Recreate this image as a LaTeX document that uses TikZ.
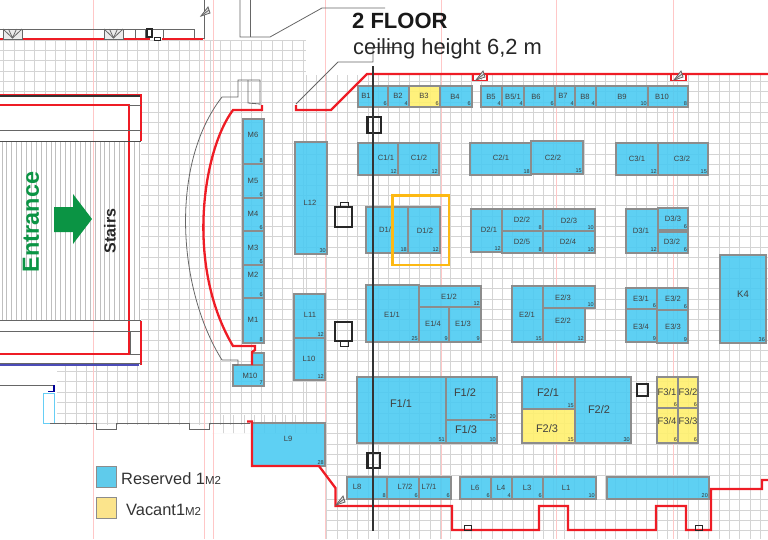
\documentclass[tikz,border=0pt]{standalone}
\usepackage{fontspec}
\setmainfont{Liberation Sans}
\definecolor{stallblue}{HTML}{4CCBF2}
\definecolor{stallyellow}{HTML}{FFF06E}
\definecolor{stalledge}{HTML}{8C8C8C}
\definecolor{legendyellow}{HTML}{FBE48C}
\definecolor{legendblue}{HTML}{5FCBEB}
\definecolor{wallred}{HTML}{EE1C25}
\definecolor{planegreen}{HTML}{0B9444}
\definecolor{highlight}{HTML}{FDB913}
\tikzset{
  gridline/.style={draw=black!17,line width=.8pt},
  axisline/.style={draw=red!22,line width=.7pt},
  stall/.style={rectangle,draw=stalledge,fill=stallblue,fill opacity=.9,line width=1.8pt,inner sep=0pt,outer sep=0pt},
  vacant/.style={stall,fill=stallyellow},
  stalltxt/.style={inner sep=0pt,font=\fontsize{7.6}{9}\selectfont,text=black!75},
  areatxt/.style={inner sep=1pt,font=\fontsize{5.5}{6}\selectfont,text=black!80},
  thinwall/.style={draw=black!60,line width=.8pt},
  wall/.style={draw=wallred,line width=2.3pt,line join=miter},
  pillar/.style={draw=black!85,line width=1.3pt},
  hatchline/.style={draw=black!25,line width=.9pt},
}
% id, box x0 y0 x1 y1, text x y, text, area
\newcommand{\stall}[9]{
  \node[stall,minimum width={(#4-#2)*1pt},minimum height={(#5-#3)*1pt}] (#1) at ({(#2+#4)/2},{(#3+#5)/2}) {};
  \node[stalltxt] (#1t) at (#6,#7) {#8};
  \node[areatxt,anchor=south east] (#1a) at (#1.south east) {#9};
}
\newcommand{\vacantstall}[9]{
  \node[vacant,minimum width={(#4-#2)*1pt},minimum height={(#5-#3)*1pt}] (#1) at ({(#2+#4)/2},{(#3+#5)/2}) {};
  \node[stalltxt] (#1t) at (#6,#7) {#8};
  \node[areatxt,anchor=south east] (#1a) at (#1.south east) {#9};
}
\newcommand{\doorfan}[2]{
  \draw[thinwall,fill=black!10] (#1,#2) -- ++(9,-3) -- ++(-2,-6) -- cycle;
  \draw[thinwall] (#1,#2) -- ++(8,-6);
}
\newcommand{\doorpair}[2]{
  \draw[thinwall,fill=black!8] (#1,#2) rectangle ++(19,10);
  \draw[thinwall] (#1,#2) -- ++(9.5,9) -- ++(9.5,-9);
  \draw[thinwall] (#1,#2) ++(9.5,9) -- ++(-4,-9) ++(4,9) -- ++(4,-9);
}
\begin{document}
\begin{tikzpicture}[x=1pt,y=-1pt]
        \useasboundingbox (0,0) rectangle (768,539);

        \begin{scope}
          \clip (0,40) -- (306,40) -- (306,95) -- (306,425) -- (57,425) -- (57,365) -- (141,365) -- (141,95) -- (0,95) -- cycle;
          \foreach \k in {0,...,29} { \draw[gridline] ({3.6+10.33*\k},40) -- ({3.6+10.33*\k},425); }
          \foreach \k in {0,...,37} { \draw[gridline] (0,{40+10.36*\k}) -- (306,{40+10.36*\k}); }
        \end{scope}

        \begin{scope}
          \clip (306,75) -- (768,75) -- (768,539) -- (325,539) -- (325,433) -- (212,433) -- (212,415) -- (306,415) -- cycle;
          \foreach \k in {20,...,73} { \draw[gridline] ({6.4+10.33*\k},75) -- ({6.4+10.33*\k},539); }
          \foreach \k in {3,...,42} { \draw[gridline] (200,{40+10.36*\k}) -- (768,{40+10.36*\k}); }
          \foreach \y in {499.6,510,520.3,530.6} { \draw[gridline] (200,\y) -- (768,\y); }
        \end{scope}

        \foreach \k in {0,...,28} { \draw[hatchline] ({2+4.9*\k},141) -- ({2+4.9*\k},320); }

        \foreach \x in {93,204,213,325,441,556,673} { \draw[axisline] (\x,0) -- (\x,539); }

        \stall{Bone}{358}{86}{388}{107}{366}{96}{B1}{6}
        \stall{Btwo}{388}{86}{409}{107}{398}{96}{B2}{4}
        \vacantstall{Bthree}{409}{86}{440}{107}{424}{96}{B3}{6}
        \stall{Bfour}{440}{86}{472}{107}{455}{97}{B4}{6}
        \stall{Bfive}{481}{86}{502}{107}{491}{97}{B5}{4}
        \stall{Bfivea}{502}{86}{524}{107}{513}{97}{B5/1}{4}
        \stall{Bsix}{524}{86}{555}{107}{536}{97}{B6}{6}
        \stall{Bseven}{555}{86}{575}{107}{563}{96}{B7}{4}
        \stall{Beight}{575}{86}{596}{107}{585}{97}{B8}{4}
        \stall{Bnine}{596}{86}{648}{107}{622}{97}{B9}{10}
        \stall{Bten}{648}{86}{688}{107}{662}{97}{B10}{8}

        \stall{Cone}{358}{143}{398}{175}{386}{158}{C1/1}{12}
        \stall{Ctwo}{398}{143}{439}{175}{419}{158}{C1/2}{12}
        \stall{Cthree}{470}{143}{531}{175}{501}{158}{C2/1}{18}
        \stall{Cfour}{531}{141}{583}{174}{553}{158}{C2/2}{15}
        \stall{Cfive}{616}{143}{658}{175}{637}{159}{C3/1}{12}
        \stall{Csix}{658}{143}{708}{175}{682}{159}{C3/2}{15}

        \stall{Done}{366}{207}{408}{253}{385}{230}{D1/}{18}
        \stall{Dtwo}{408}{207}{440}{253}{425}{231}{D1/2}{12}
        \stall{Dthree}{471}{209}{502}{252}{489}{230}{D2/1}{12}
        \stall{Dfour}{502}{209}{543}{231}{522}{220}{D2/2}{8}
        \stall{Dfive}{502}{231}{543}{253}{522}{242}{D2/5}{8}
        \stall{Dsix}{543}{209}{595}{231}{569}{221}{D2/3}{10}
        \stall{Dseven}{543}{231}{595}{253}{568}{242}{D2/4}{10}
        \stall{Deight}{626}{209}{658}{253}{641}{231}{D3/1}{12}
        \stall{Dnine}{658}{208}{688}{230}{673}{219}{D3/3}{6}
        \stall{Dten}{658}{232}{688}{253}{672}{242}{D3/2}{6}

        \stall{Eone}{366}{285}{419}{342}{392}{315}{E1/1}{25}
        \stall{Etwo}{419}{286}{481}{307}{449}{297}{E1/2}{12}
        \stall{Ethree}{419}{307}{449}{342}{433}{324}{E1/4}{9}
        \stall{Efour}{449}{307}{481}{342}{463}{324}{E1/3}{9}
        \stall{Efive}{512}{286}{543}{342}{527}{315}{E2/1}{15}
        \stall{Esix}{543}{286}{595}{308}{563}{298}{E2/3}{10}
        \stall{Eseven}{543}{308}{585}{342}{563}{321}{E2/2}{12}
        \stall{Eeight}{626}{288}{657}{309}{641}{299}{E3/1}{6}
        \stall{Enine}{657}{288}{688}{310}{673}{299}{E3/2}{6}
        \stall{Eten}{626}{309}{657}{342}{641}{327}{E3/4}{9}
        \stall{Eeleven}{657}{310}{688}{343}{673}{327}{E3/3}{9}
        \stall{Kfour}{720}{255}{766}{343}{743}{294}{\fontsize{9.5}{11}\selectfont K4}{36}

        \tikzset{stalltxt/.style={inner sep=0pt,font=\fontsize{11}{13}\selectfont,text=black!75}}
        \stall{Fone}{357}{377}{446}{443}{401}{404}{F1/1}{51}
        \stall{Ftwo}{446}{377}{497}{420}{465}{393}{F1/2}{20}
        \stall{Fthree}{446}{420}{497}{443}{466}{430}{F1/3}{10}
        \stall{Ffour}{522}{377}{575}{409}{548}{393}{F2/1}{15}
        \vacantstall{Ffive}{522}{409}{575}{443}{547}{429}{F2/3}{15}
        \stall{Fsix}{575}{377}{631}{443}{599}{410}{F2/2}{30}
        \tikzset{stalltxt/.style={inner sep=0pt,font=\fontsize{9.5}{11}\selectfont,text=black!75}}
        \vacantstall{Fseven}{657}{377}{678}{408}{667}{392}{F3/1}{6}
        \vacantstall{Feight}{678}{377}{698}{408}{688}{392}{F3/2}{6}
        \vacantstall{Fnine}{657}{408}{678}{443}{667}{421}{F3/4}{6}
        \vacantstall{Ften}{678}{408}{698}{443}{688}{421}{F3/3}{6}
        \tikzset{stalltxt/.style={inner sep=0pt,font=\fontsize{7.6}{9}\selectfont,text=black!75}}

        \stall{Leight}{347}{477}{387}{499}{357}{487}{L8}{8}
        \stall{Lsevenb}{387}{477}{419}{499}{405}{487}{L7/2}{6}
        \stall{Lsevena}{419}{477}{451}{499}{429}{487}{L7/1}{6}
        \stall{Lsix}{460}{477}{491}{499}{475}{488}{L6}{6}
        \stall{Lfour}{491}{477}{512}{499}{501}{488}{L4}{4}
        \stall{Lthree}{512}{477}{543}{499}{527}{488}{L3}{6}
        \stall{Lone}{543}{477}{596}{499}{566}{488}{L1}{10}
        \stall{Lend}{607}{477}{709}{499}{658}{488}{}{20}
        \stall{Lnine}{252}{423}{325}{466}{288}{439}{L9}{28}
        \stall{Lten}{294}{338}{325}{380}{309}{359}{L10}{12}
        \stall{Leleven}{294}{294}{325}{338}{310}{315}{L11}{12}
        \stall{Ltwelve}{295}{142}{327}{254}{310}{203}{L12}{30}

        \stall{Msix}{243}{119}{264}{164}{253}{135}{M6}{8}
        \stall{Mfive}{243}{164}{264}{198}{253}{181}{M5}{6}
        \stall{Mfour}{243}{198}{264}{231}{253}{214}{M4}{6}
        \stall{Mthree}{243}{231}{264}{265}{253}{248}{M3}{6}
        \stall{Mtwo}{243}{265}{264}{298}{253}{275}{M2}{6}
        \stall{Mone}{243}{298}{264}{343}{253}{320}{M1}{8}
        \stall{Mtop}{252}{353}{264}{365}{258}{359}{}{}
        \stall{Mten}{233}{365}{264}{386}{250}{376}{M10}{7}

        \draw[highlight,line width=2.6pt] (392.5,195.5) rectangle (449,265);

        \draw[thinwall] (0,29) -- (194,29) -- (194,38) -- (204,38) -- (204,0);
        \foreach \x in {135,145,163} { \draw[thinwall] (\x,29) -- (\x,38); }
        \draw[wall,line width=1.2pt] (0,39) -- (150,39);
        \draw[wall,line width=1.2pt] (162,39) -- (203,39);
        \draw[pillar] (147,29) rectangle (152,37);
        \draw[pillar,line width=.8pt] (154.5,37) rectangle (160.5,40);
        \doorpair{3}{29}
        \doorpair{104}{29}
        \doorfan{201}{16}

        \draw[thinwall] (240,0) -- (240,37) -- (270,37) -- (322,8) -- (385,8);
        \draw[thinwall] (250,0) -- (250,37);
        \draw[thinwall] (296,104) -- (338,62) -- (373,62) -- (373,48);
        \draw[thinwall] (373,47) -- (402,47);

        \draw[wall] (296,105) -- (296,110) -- (331,110) -- (367,74) -- (768,74);
        \draw[wall] (262,105) -- (262,110) -- (233,110) .. controls (203,150) and (185,265) .. (233,346) -- (255,346) -- (255,350) -- (252,352) -- (252,365);
        \draw[thinwall] (233,365) -- (238,365) -- (238,360) -- (222,360) .. controls (178,290) and (169,165) .. (222,97) -- (238,97) -- (238,80) -- (260,80) -- (260,105);
        \draw[thinwall] (248,80) -- (248,103) -- (260,104);

        \draw[black!80,line width=1.4pt] (0,96) -- (141,96);
        \draw[wall,line width=1.2pt] (0,94.5) -- (141,94.5) -- (141,141);
        \draw[wall] (0,105) -- (129,105) -- (129,354) -- (0,354);
        \draw[thinwall] (129,105) -- (141,105);
        \draw[thinwall] (0,130.5) -- (141,130.5);
        \draw[thinwall,draw=black!70,line width=1pt] (0,141) -- (141,141);
        \draw[thinwall,line width=1pt] (0,320.5) -- (141,320.5);
        \draw[thinwall] (0,331) -- (141,331);
        \draw[thinwall] (130.5,331) -- (130.5,354) -- (141,354);
        \draw[wall,line width=1.2pt] (141,320.5) -- (141,365);
        \draw[thinwall] (0,363.5) -- (141,363.5);
        \draw[draw=blue!60!black!70,line width=1.4pt] (0,365) -- (139,365);

        \draw[thinwall] (0,385) -- (53,385);
        \draw[blue!60!black,line width=1.4pt] (48,391.5) -- (54,391.5) -- (54,385);
        \draw[cyan!60,line width=1pt] (43.5,393.5) rectangle (54,423);
        \draw[thinwall] (50,423.5) -- (96,423.5) -- (96,429.5) -- (116,429.5) -- (116,423.5) -- (189,423.5) -- (189,429.5) -- (209,429.5) -- (209,423.5) -- (250,423.5);
        \draw[wall] (247,421.5) -- (252,421.5) -- (252,466) -- (319,466) -- (335.5,488) -- (335.5,506) -- (452,506) -- (452,530) -- (539,530) -- (539,506) -- (568,506) -- (568,530) -- (656,530) -- (656,506) -- (686,506) -- (686,530) -- (711,530) -- (711,489) -- (762,489) -- (762,480) -- (768,480);
        \draw[pillar,line width=.8pt] (464,525) rectangle (471,530);
        \draw[pillar,line width=.8pt] (695,525) rectangle (702,530);
        \doorfan{336}{505}
        \draw[wall,line width=1.6pt] (473,74) -- (473,80.5) -- (487,80.5) -- (487,74);
        \draw[wall,line width=1.6pt] (671,74) -- (671,80.5) -- (686,80.5) -- (686,74);
        \doorfan{476}{80}
        \doorfan{674}{80}

        \draw[pillar] (368,117) rectangle (381,133);
        \draw[pillar] (367,116) -- (367,134);
        \draw[pillar] (368,453) rectangle (380,468);
        \draw[pillar] (367,452) -- (367,469);
        \draw[pillar,line width=1.6pt] (335,207) rectangle (352,227);
        \draw[pillar,line width=.9pt] (340,202) rectangle (348,207);
        \draw[pillar,line width=1.6pt] (335,322) rectangle (352,341);
        \draw[pillar,line width=.9pt] (340,341) rectangle (348,346);
        \draw[pillar,line width=2.2pt] (637,384) rectangle (648,396);

        \draw[black!80,line width=1.7pt] (373,66) -- (373,531);

        \fill[planegreen] (54,207) -- (73,207) -- (73,194) -- (92,219) -- (73,244) -- (73,232) -- (54,232) -- cycle;
        \node[rotate=90,text=planegreen,font=\bfseries\fontsize{23.4}{26}\selectfont,inner sep=0pt] (entrance) at (31,222) {Entrance};
        \node[rotate=90,text=black!85,font=\bfseries\fontsize{16}{18}\selectfont,inner sep=0pt] (stairs) at (110,231) {Stairs};

        \node[anchor=base west,inner sep=0pt,text=black!90,font=\bfseries\fontsize{22}{26}\selectfont] (floor) at (352,28) {2 FLOOR};
        \node[anchor=base west,inner sep=0pt,text=black!85,font=\fontsize{21.9}{26}\selectfont] (height) at (353,54) {ceiling height 6,2 m};

        \node[draw=stalledge,fill=legendblue,line width=1.5pt,minimum width=20pt,minimum height=21pt,inner sep=0pt] (reserved) at (106.5,477) {};
        \node[draw=stalledge,fill=legendyellow,line width=1.5pt,minimum width=20pt,minimum height=21pt,inner sep=0pt] (free) at (106.5,508) {};
        \node[anchor=base west,inner sep=0pt,text=black!80,font=\fontsize{16.4}{18}\selectfont] (reservedtxt) at (121,484) {Reserved 1{\fontsize{11.5}{13}\selectfont M2}};
        \node[anchor=base west,inner sep=0pt,text=black!80,font=\fontsize{16.4}{18}\selectfont] (freetxt) at (126,515) {Vacant1{\fontsize{11.5}{13}\selectfont M2}};
\end{tikzpicture}
\end{document}
